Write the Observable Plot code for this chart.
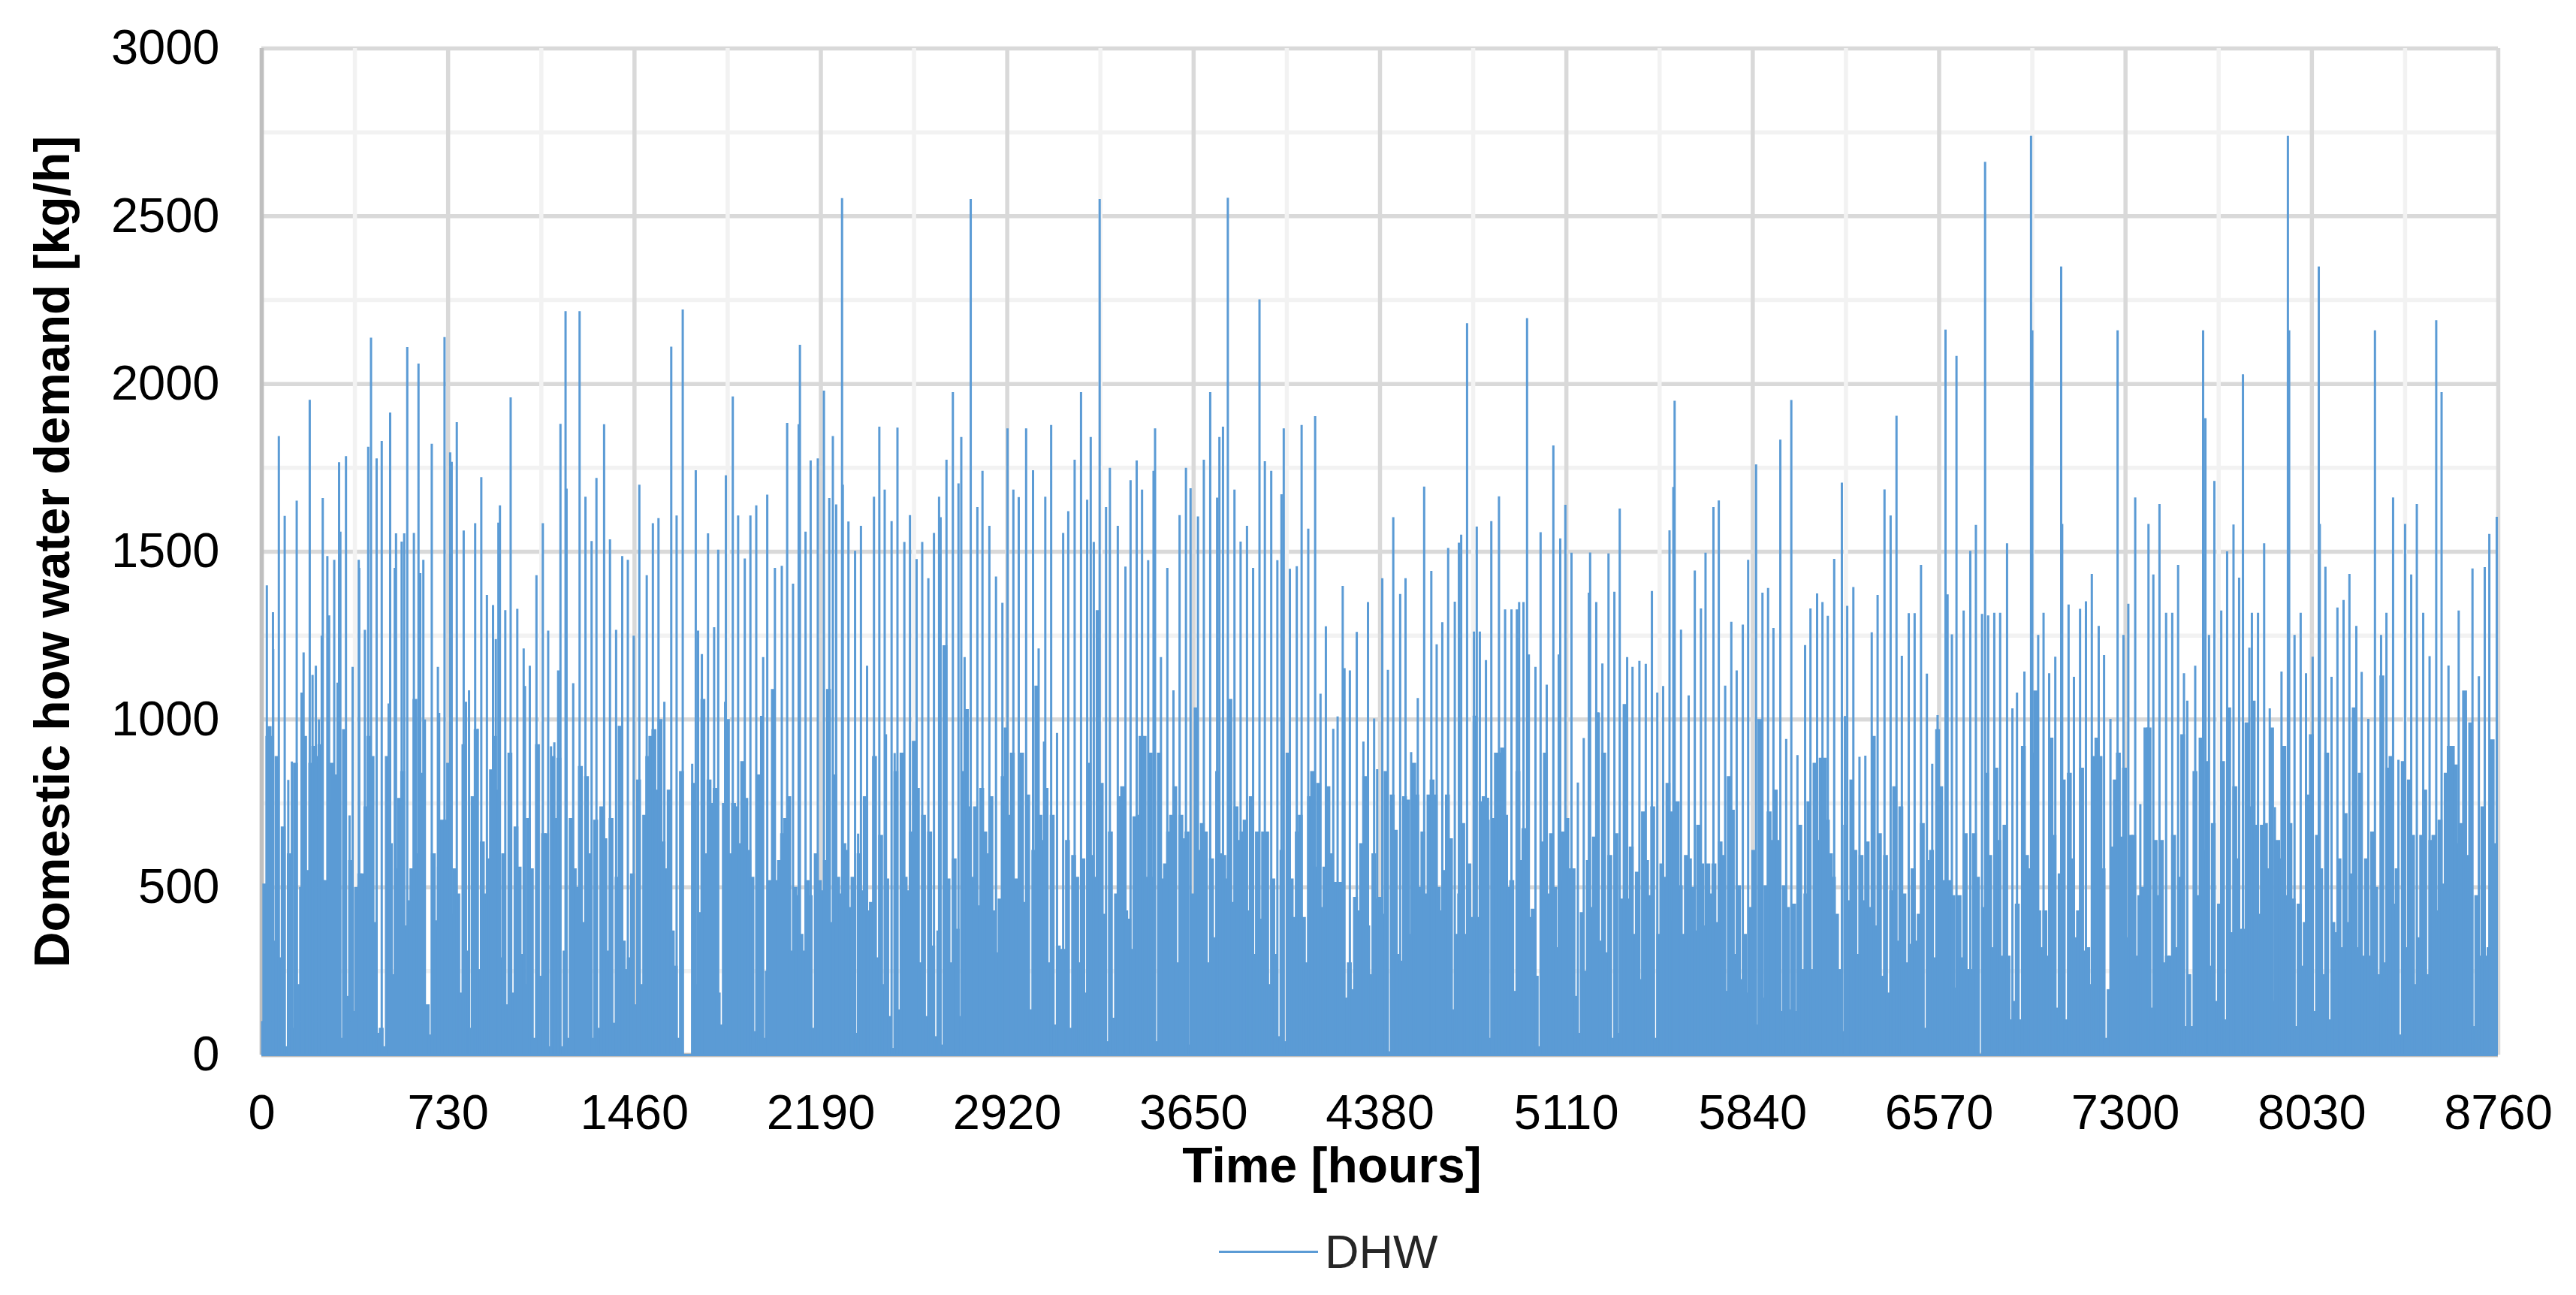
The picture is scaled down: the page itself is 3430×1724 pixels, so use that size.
<!DOCTYPE html>
<html><head><meta charset="utf-8">
<script src="https://cdn.jsdelivr.net/npm/d3@7"></script>
<script src="https://cdn.jsdelivr.net/npm/@observablehq/plot@0.6"></script>
<style>
html,body{margin:0;padding:0;background:#fff}
#legend{position:relative;height:104px;font:63px "Liberation Sans",Arial,sans-serif;color:#262626}
#legend i{position:absolute;left:1623px;top:45px;width:132px;height:3px;background:#5b9bd5}
#legend span{position:absolute;left:1764px;top:10px;line-height:72px}
</style></head><body><div id="chart"></div><div id="legend"><i></i><span>DHW</span></div>
<script>
const seriesName = "DHW";
const xLabel = "Time [hours]";
const yLabel = "Domestic how water demand [kg/h]";
const xMajor = [0,730,1460,2190,2920,3650,4380,5110,5840,6570,7300,8030,8760];
const xMinor = [365,1095,1825,2555,3285,4015,4745,5475,6205,6935,7665,8395];
const yMajor = [0,500,1000,1500,2000,2500,3000];
const yMinor = [250,750,1250,1750,2250,2750];

const peaksA = [[2,100],[20,1400],[27,980],[34,980],[44,1320],[45,1210],[67,1845],[90,1607],[104,820],[118,875],[137,1652],[156,1080],[164,1200],[188,1953],[199,1133],[212,1160],[224,1000],[235,1250],[239,1660],[257,1487],[264,1310],[284,1476],[297,1110],[303,1767],[308,1560],[330,1785],[344,714],[356,1157],[367,500],[380,1476],[382,1452],[404,1267],[417,1813],[428,2138],[450,1778],[470,1830],[497,1048],[503,1915],[521,1452],[526,1555],[548,1530],[558,1555],[570,2110],[596,1556],[614,2061],[621,1436],[633,1476],[639,1000],[666,1822],[690,1157],[695,1020],[716,2140],[738,1796],[744,1768],[764,1886],[791,1563],[800,1053],[812,1087],[836,1585],[846,972],[860,1722],[882,1371],[906,1341],[917,1240],[927,1587],[933,1638],[954,1326],[975,1960],[1001,1330],[1026,1212],[1031,1100],[1050,1160],[1076,1430],[1101,1585],[1122,1265],[1133,920],[1146,932],[1161,1146],[1170,1881],[1190,2217],[1194,1688],[1220,1108],[1245,2217],[1268,1664],[1292,1532],[1311,1720],[1341,1880],[1364,1537],[1388,1267],[1412,1487],[1434,1476],[1457,1250],[1479,1700],[1508,1430],[1532,1585],[1554,1600],[1577,1053],[1604,2111],[1625,1608],[1649,2222],[1686,868],[1700,1743],[1709,1265],[1724,1195],[1748,1555],[1772,1275],[1788,1506],[1815,1053],[1818,1728],[1845,1963],[1866,1608],[1892,1480],[1914,1608],[1937,1638],[1956,1011],[1964,1186],[1980,1670],[2010,1452],[2037,1458],[2058,1884],[2081,1405],[2103,1880],[2108,2117],[2130,1560],[2150,1772],[2178,1778],[2202,1980],[2223,1660],[2237,1845],[2250,1641],[2273,2554],[2276,1700],[2298,1590],[2324,1503]];
const peaksB = [[2336,660],[2347,1577],[2371,1160],[2398,1664],[2419,1873],[2440,1685],[2445,956],[2467,1591],[2479,900],[2490,1870],[2517,1529],[2539,1609],[2565,1478],[2587,1529],[2611,1421],[2633,1556],[2653,1664],[2659,1603],[2682,1774],[2707,1976],[2729,1704],[2740,1842],[2753,1186],[2777,2551],[2803,1633],[2823,1741],[2850,1577],[2876,1426],[2901,1348],[2921,1868],[2944,1685],[2965,1663],[2994,1868],[3021,1743],[3043,1212],[3064,934],[3069,1664],[3092,1878],[3115,960],[3139,1556],[3159,1621],[3184,1774],[3209,1976],[3233,1655],[3247,1842],[3259,1529],[3282,2551],[3307,1633],[3322,1750],[3353,1577],[3383,1456],[3403,1713],[3427,1772],[3448,1685],[3472,1475],[3493,1741],[3499,1868],[3522,1186],[3547,1452],[3571,1087],[3595,1609],[3620,1750],[3638,1689],[3667,1605],[3690,1774],[3715,1976],[3742,1661],[3751,1842],[3765,1873],[3784,2555],[3810,1685],[3834,1530],[3859,1577],[3883,1452],[3908,2252],[3929,1770],[3954,1741],[3978,1475],[3994,1671],[4003,1868],[4027,1449],[4054,1457],[4073,1878],[4099,1569],[4126,1904],[4147,1077],[4168,1278],[4197,972],[4214,1009],[4234,1398],[4241,1153],[4262,1146],[4289,1261],[4315,934],[4333,1350],[4357,1003],[4369,852],[4389,1421],[4411,1148],[4432,1603],[4459,1374],[4480,1421],[4502,903],[4528,1064],[4553,1694],[4581,1443],[4602,1224],[4624,1290],[4647,1511],[4673,1351]];
const peaksC = [[4689,1527],[4698,1551],[4721,2181],[4748,1262],[4759,1575],[4771,1262],[4795,1177],[4803,767],[4816,1591],[4846,1665],[4870,1328],[4895,1328],[4916,1328],[4925,1350],[4942,1350],[4956,2196],[4963,1194],[4989,1157],[5009,1558],[5033,1104],[5059,1817],[5080,1194],[5086,1540],[5106,1640],[5130,1497],[5155,812],[5178,945],[5198,1378],[5203,1498],[5227,1350],[5233,1021],[5251,1167],[5275,1495],[5298,1381],[5319,1629],[5348,1186],[5369,1157],[5396,1175],[5421,1166],[5445,1383],[5466,1080],[5489,1100],[5514,1564],[5529,1693],[5534,1950],[5559,1268],[5589,1072],[5613,1444],[5637,1331],[5655,1497],[5686,1633],[5707,1653],[5732,1101],[5756,1291],[5777,1146],[5801,1283],[5822,1476],[5853,1760],[5878,1378],[5900,1392],[5921,1273],[5948,1834],[5971,942],[5991,1952],[6015,894],[6045,1222],[6066,1331],[6092,1376],[6113,1350],[6134,1309],[6159,1479],[6189,1706],[6201,1010],[6210,1339],[6234,1395],[6258,889],[6281,892],[6306,1260],[6329,1371],[6356,1686],[6380,1608],[6403,1905],[6424,1190],[6451,1317],[6474,1317],[6499,1461],[6522,1137],[6543,868],[6564,1013],[6595,2162],[6603,1373],[6620,1254],[6638,2084],[6666,1325],[6692,1503],[6714,1580],[6738,1315]];
const peaksD = [[6750,2662],[6762,1310],[6786,1318],[6809,1318],[6836,1525],[6857,1033],[6875,1080],[6904,1143],[6930,2740],[6935,2160],[6958,1252],[6979,1318],[7001,1138],[7025,1187],[7048,2350],[7052,1583],[7077,1343],[7098,1127],[7122,1330],[7145,1352],[7168,1434],[7195,1279],[7216,1192],[7241,1002],[7269,2160],[7292,1252],[7311,1345],[7338,1662],[7358,748],[7390,1583],[7409,1432],[7433,1642],[7459,1318],[7483,1318],[7506,1461],[7529,1138],[7542,1056],[7573,1160],[7604,2160],[7613,1898],[7627,1252],[7648,1711],[7675,1325],[7698,1501],[7723,1581],[7745,1423],[7760,2029],[7785,1214],[7795,1318],[7819,1318],[7843,1525],[7865,1033],[7885,739],[7911,1143],[7936,2740],[7941,2160],[7962,1252],[7986,1318],[8007,1138],[8033,1187],[8057,2350],[8061,1583],[8083,1455],[8107,1127],[8130,1334],[8154,1356],[8177,1434],[8204,1279],[8225,1142],[8251,1002],[8277,2160],[8301,1252],[8322,1318],[8348,1662],[8369,880],[8395,1583],[8419,1432],[8441,1642],[8466,1318],[8491,1189],[8517,2190],[8538,1976],[8565,1161],[8605,1325],[8633,1029],[8659,1450],[8684,1129],[8707,1454],[8725,1553],[8754,1604]];

const baseA = [100,510,950,950,340,890,290,680,25,600,80,870,210,500,950,550,870,920,890,925,520,520,750,870,835,100,50,970,175,580,130,500,540,540,740,950,890,395,65,80,25,890,630,240,555,765,845,385,460,555,1060,600,840,90,150,60,600,400,560,700,
700,870,420,555,480,185,925,310,80,770,970,255,635,480,585,850,950,790,290,600,150,900,185,680,560,300,210,705,555,50,925,235,660,660,25,890,705,885,25,310,50,705,555,500,860,395,830,600,50,700,80,740,645,310,705,95,530,980,340,255,290,540,150,820,210,715,890,950,970,790,1000,635,555,790,370,265,50,845,
0,0,0,810,210,425,1060,600,820,750,795,185,90,750,1000,600,750,740,630,875,765,610,530,70,835,700,50,250,520,1090,520,580,660,705,770,310,500,475,360,310,520,475,80,600,520,490,580,1090,395,835,530,480,630,610,440,530];
const baseB = [65,600,490,770,430,455,890,290,655,210,525,115,20,845,135,900,530,490,665,935,795,275,715,115,665,325,55,370,30,1220,525,275,585,375,115,845,1030,740,530,740,445,795,665,600,770,430,305,465,830,975,715,900,525,65,900,455,775,135,610,1100,715,640,795,275,715,90,325,315,315,640,80,595,530,275,585,185,870,595,530,1325,810,420,40,665,110,480,770,800,430,405,315,710,715,950,950,530,900,530,40,900,525,570,665,715,800,275,715,645,665,30,480,1035,610,690,665,275,585,350,845,600,595,525,1060,455,740,640,665,700,430,770,300,665,405,665,665,210,525,300,55,610,40,900,525,410,665,715,410,275,770,845,560,810,440,560,800,600,515,515,515,70,170,275,195,470,430,630,830,385,240,600,465,470,420,845,10,775,670,300,280,770,760,360,870,775,500,665,480,775,820,775,500,430,550,775,645,135];
const baseC = [360,480,690,360,570,410,1010,410,755,770,700,50,705,900,900,915,715,500,520,190,845,580,675,635,410,435,235,25,635,900,480,660,500,320,520,665,705,555,555,175,65,425,250,580,440,650,1020,340,900,305,595,50,660,65,465,1045,465,620,360,545,225,725,580,475,740,50,360,570,530,810,725,400,755,505,360,595,585,500,370,685,570,385,570,480,570,395,635,595,190,830,730,300,505,225,360,185,440,610,90,1000,170,505,725,640,790,640,130,505,440,135,450,130,685,255,480,755,255,870,640,885,885,700,600,530,420,255,70,685,460,820,610,300,595,460,635,440,950,385,660,235,595,185,490,800,340,740,480,275,330,555,340,420,690,80,580,610,290,970,800,520,255,520,475,200,475,290,660,255,255,660,530];
const baseD = [440,840,595,320,855,640,295,685,295,105,160,450,105,920,595,555,900,1085,430,320,430,295,945,655,140,540,820,105,840,585,350,430,855,310,320,210,890,945,890,555,50,195,620,820,900,650,855,350,655,655,295,475,500,975,975,140,640,475,640,275,295,295,655,320,530,955,85,240,85,845,475,945,610,875,265,690,160,450,875,105,1035,365,800,585,375,375,990,740,1055,685,420,685,690,555,975,160,640,585,920,475,690,465,85,450,265,395,775,955,130,655,555,240,900,105,395,365,585,320,720,395,540,1035,320,840,295,585,295,665,500,240,1130,275,855,890,450,555,60,875,320,820,655,210,350,655,790,240,640,655,430,700,510,840,920,920,865,630,690,1085,595,990,85,475,295,740,295,320,940,630];

const blocks = [[0,baseA],[2328,baseB],[4680,baseC],[6744,baseD]];
const base = blocks.flatMap(([start, vals]) => vals.map((v, i) => ({h: start + 12 * i, v})));
const peaks = [...peaksA, ...peaksB, ...peaksC, ...peaksD];
const line = peaks.flatMap(([h, v]) => [{h, v: 0}, {h, v}, {h, v: 0}]);

const grid = "#d9d9d9", soft = "#f2f2f2", blue = "#5b9bd5";
const chart = Plot.plot({
  width: 3430, height: 1620,
  marginLeft: 348, marginRight: 104, marginTop: 64, marginBottom: 216,
  style: {fontFamily: '"Liberation Sans",Arial,sans-serif', background: "#fff", color: "#000", overflow: "visible"},
  x: {domain: [0, 8760]},
  y: {domain: [0, 3000]},
  marks: [
    Plot.ruleY(yMinor, {stroke: soft, strokeWidth: 5.5}),
    Plot.ruleY(yMajor, {stroke: grid, strokeWidth: 5.5}),
    Plot.ruleX(xMinor, {stroke: soft, strokeWidth: 5.5}),
    Plot.ruleX(xMajor, {stroke: grid, strokeWidth: 5.5}),
    Plot.ruleX([0], {stroke: "#bfbfbf", strokeWidth: 5.5}),
    Plot.ruleY([0], {stroke: "#bfbfbf", strokeWidth: 5.5}),
    Plot.ruleX(base, {x: "h", y1: 0, y2: "v", stroke: blue, strokeWidth: 6.5, clip: true}),
    Plot.line(line, {x: "h", y: "v", stroke: blue, strokeWidth: 3, strokeLinejoin: "bevel"}),
    Plot.axisX({ticks: xMajor, tickFormat: d => String(d), tickSize: 0, tickPadding: 52, fontSize: 65, label: null}),
    Plot.axisY({ticks: yMajor, tickFormat: d => String(d), tickSize: 0, tickPadding: 56, fontSize: 65, label: null}),
    Plot.text([xLabel], {frameAnchor: "bottom", dx: -64, dy: 169, fontSize: 66, fontWeight: "bold", fill: "#000"}),
    Plot.text([yLabel], {frameAnchor: "left", textAnchor: "middle", rotate: -90, dx: -278, fontSize: 66, fontWeight: "bold", fill: "#000"})
  ]
});
document.getElementById("chart").appendChild(chart);
</script></body></html>
